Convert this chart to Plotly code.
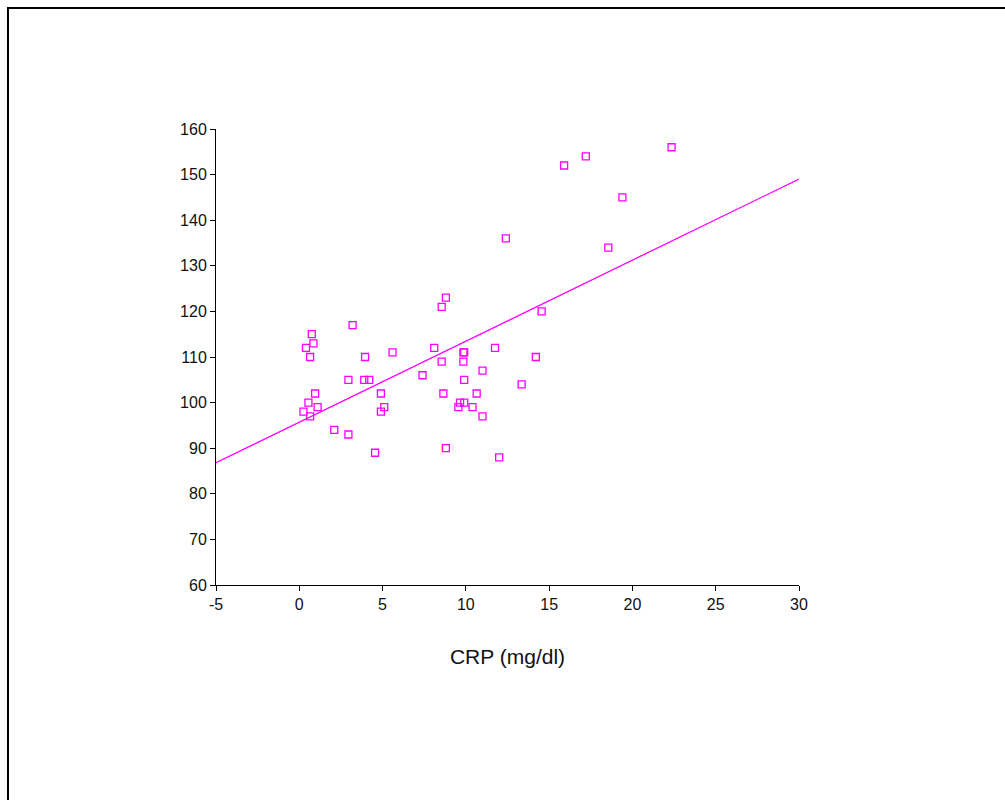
import plotly.graph_objects as go
import numpy as np

# CRP (mg/dl) against the measured value for each subject
crp = [0.75, 3.2, 0.85, 0.4, 0.65, 3.95, 5.6, 8.1, 8.8, 8.55,
       8.55, 9.85, 9.9, 9.85, 7.4, 2.95, 3.9, 4.2, 9.9, 0.95,
       4.9, 8.65, 10.65, 0.55, 1.1, 0.25, 0.65, 5.1, 4.9, 9.65,
       9.9, 9.55, 10.4, 2.1, 2.95, 4.55, 8.8, 14.55, 11.75, 14.2,
       11.0, 13.35, 11.0, 12.0, 15.9, 17.2, 22.35, 19.4, 12.4, 18.55]
value = [115, 117, 113, 112, 110, 110, 111, 112, 123, 121,
         109, 111, 111, 109, 106, 105, 105, 105, 105, 102,
         102, 102, 102, 100, 99, 98, 97, 99, 98, 100,
         100, 99, 99, 94, 93, 89, 90, 120, 112, 110,
         107, 104, 97, 88, 152, 154, 156, 145, 136, 134]

# linear trend line
trend_intercept = 95.7
trend_slope = 1.777
x_range = [-5, 30]
y_range = [60, 160]
x_ticks = [-5, 0, 5, 10, 15, 20, 25, 30]
x_tick_labels = ["-5", "0", "5", "10", "15", "20", "25", "30"]
y_ticks = [60, 70, 80, 90, 100, 110, 120, 130, 140, 150, 160]

MAGENTA = "#FF00FF"
FONT = "Arial, Liberation Sans, sans-serif"

fig = go.Figure()
fig.add_trace(go.Scatter(
    x=crp, y=value, mode="markers",
    marker=dict(symbol="square-open", size=7, color=MAGENTA,
                line=dict(width=1.3, color=MAGENTA)),
    hoverinfo="x+y", showlegend=False,
))
line_x = np.array(x_range, dtype=float)
fig.add_trace(go.Scatter(
    x=line_x, y=trend_intercept + trend_slope * line_x, mode="lines",
    line=dict(color=MAGENTA, width=1.3), showlegend=False, hoverinfo="skip",
    cliponaxis=False,
))

axis_common = dict(
    showgrid=False, zeroline=False, showline=True, linecolor="black", linewidth=1,
    ticks="outside", ticklen=5, tickcolor="black", tickwidth=1,
    tickfont=dict(family=FONT, size=16, color="#111"),
)

fig.update_xaxes(range=x_range, tickvals=x_ticks, ticktext=x_tick_labels, **axis_common,
                 title=dict(text="CRP (mg/dl)", standoff=37,
                            font=dict(family=FONT, size=21, color="#111")))
fig.update_yaxes(range=y_range, tickvals=y_ticks, **axis_common)

# outer frame around the chart
fig.add_shape(type="rect", xref="paper", yref="paper",
              x0=-0.3568, x1=1.6, y0=-0.6, y1=1.2654,
              line=dict(color="black", width=2), fillcolor="rgba(0,0,0,0)", layer="below")

fig.update_layout(
    width=1005, height=800,
    margin=dict(l=216, r=206, t=129, b=215),
    paper_bgcolor="white", plot_bgcolor="white",
)

fig.write_html("out.html")
